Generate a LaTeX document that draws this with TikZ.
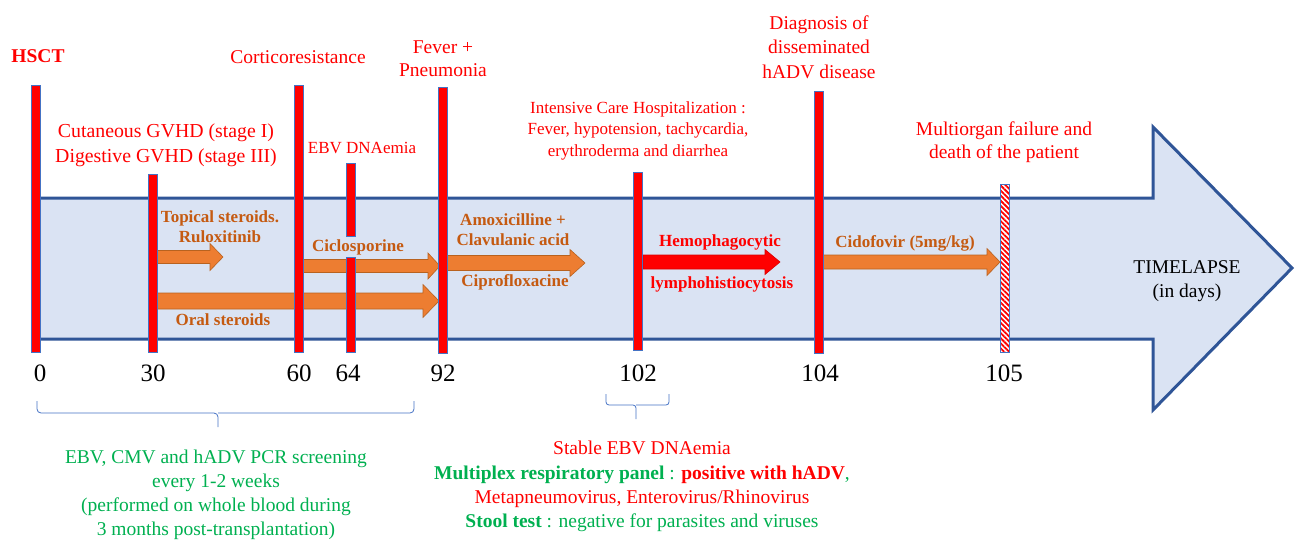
\documentclass[tikz,border=0pt]{standalone}
\usepackage{fontspec}
\setmainfont{LiberationSerif}[Extension=.ttf,UprightFont=*-Regular,BoldFont=*-Bold,ItalicFont=*-Italic,BoldItalicFont=*-BoldItalic]
\usetikzlibrary{patterns.meta}
\definecolor{bandfill}{HTML}{DAE3F3}
\definecolor{bandline}{HTML}{2F5597}
\definecolor{barline}{HTML}{4472C4}
\definecolor{orfill}{HTML}{ED7D31}
\definecolor{orline}{HTML}{B8621F}
\definecolor{ortext}{HTML}{C55A11}
\definecolor{grn}{HTML}{00B050}
\definecolor{rd}{HTML}{FF0000}
\newcommand{\tlarrow}[7]{%
  \draw[#1] ({#2},{#5-#6}) -- ({#3},{#5-#6}) -- ({#3},{#5-#7}) -- ({#4},{#5})
   -- ({#3},{#5+#7}) -- ({#3},{#5+#6}) -- ({#2},{#5+#6}) -- cycle;}
\newcommand{\tlbar}[3]{%
  \draw[barstyle] ({#1-4.5},{#2}) rectangle ({#1+4.5},{#3});}
\begin{document}
\begin{tikzpicture}[x=1pt,y=-1pt,
  barstyle/.style={fill=rd,draw=barline,line width=0.8pt},
  medarrow/.style={fill=orfill,draw=orline,line width=0.6pt},
  redarrow/.style={fill=rd,draw=rd!85!black,line width=0.6pt},
  evt/.style={text=rd,font=\fontsize{19.5}{24}\selectfont,align=center,inner sep=0pt},
  evtsmall/.style={text=rd,font=\fontsize{17}{21.5}\selectfont,align=center,inner sep=0pt},
  med/.style={text=ortext,font=\bfseries\fontsize{17}{20}\selectfont,align=center,inner sep=0pt},
  daynum/.style={text=black,font=\fontsize{25}{28}\selectfont,inner sep=0pt},
  bracestyle/.style={draw=barline,line width=0.8pt,rounded corners=4pt},
  note/.style={font=\fontsize{19.5}{24.3}\selectfont,align=center,inner sep=0pt}
]
\useasboundingbox (0,0) rectangle (1295,539);
% main timeline arrow
\draw[fill=bandfill,draw=bandline,line width=3pt,line join=miter]
  (36,198) -- (1153,198) -- (1153,127) -- (1292,268) -- (1153,410) -- (1153,339) -- (36,339) -- cycle;
% treatment arrows
\tlarrow{medarrow}{157}{210}{223}{257}{6.5}{13.5}
\tlarrow{medarrow}{303}{428}{440}{266}{6.5}{13}
\tlarrow{medarrow}{156}{423}{439}{301}{8}{16.5}
\tlarrow{medarrow}{447}{570}{585}{263}{7.5}{13.5}
\tlarrow{redarrow}{643}{765}{780}{262}{7}{12.5}
\tlarrow{medarrow}{823}{987}{1000}{262}{7}{13.5}
% event bars
\tlbar{36}{85}{352}
\tlbar{153}{174}{352}
\tlbar{299}{85}{352}
\tlbar{351}{163}{236}
\tlbar{351}{257}{352}
\tlbar{443}{87}{353}
\tlbar{638}{172}{350}
\tlbar{819}{91}{353}
\fill[white] (1000.5,184) rectangle (1009.5,352);
\path[pattern={Lines[angle=-45,distance=3.6pt,line width=1.8pt]},pattern color=rd] (1000.5,184) rectangle (1009.5,352);
\draw[barline,line width=0.8pt] (1000.5,184) rectangle (1009.5,352);
% event labels
\node[evt,font=\bfseries\fontsize{19.5}{24}\selectfont] (hsct) at (38,56) {HSCT};
\node[evt,font=\fontsize{19.8}{25}\selectfont] (gvhd) at (166,145.5) {Cutaneous GVHD (stage I)\\Digestive GVHD (stage III)};
\node[evt] (cortico) at (298,57) {Corticoresistance};
\node[evt,font=\fontsize{17}{20}\selectfont] (ebv) at (362,148) {EBV DNAemia};
\node[evt,font=\fontsize{19.5}{23}\selectfont] (fever) at (443,58.5) {Fever +\\Pneumonia};
\node[evtsmall] (icu) at (638,130.5) {Intensive Care Hospitalization :\\Fever, hypotension, tachycardia,\\erythroderma and diarrhea};
\node[evt,font=\fontsize{19.5}{24.5}\selectfont] (diag) at (819,47) {Diagnosis of\\disseminated\\hADV disease};
\node[evt,font=\fontsize{19.5}{23}\selectfont] (death) at (1004,142.5) {Multiorgan failure and\\death of the patient};
\node[evt,text=black] (tl) at (1187,281) {TIMELAPSE\\(in days)};
% day numbers
\node[daynum] (d0) at (40,373) {0};
\node[daynum] (d30) at (153,373) {30};
\node[daynum] (d60) at (299,373) {60};
\node[daynum] (d64) at (348,373) {64};
\node[daynum] (d92) at (443,373) {92};
\node[daynum] (d102) at (638,373) {102};
\node[daynum] (d104) at (820,373) {104};
\node[daynum] (d105) at (1004,373) {105};
% treatment labels
\node[med] (topical) at (220,227) {Topical steroids.\\Ruloxitinib};
\node[med] (ciclo) at (358,247) {Ciclosporine};
\node[med] (oral) at (223,320) {Oral steroids};
\node[med] (amox) at (513,230) {Amoxicilline +\\Clavulanic acid};
\node[med] (cipro) at (515,282) {Ciprofloxacine};
\node[med,text=rd] (hemo1) at (720,242) {Hemophagocytic};
\node[med,text=rd] (hemo2) at (722,284) {lymphohistiocytosis};
\node[med] (cido) at (905,243) {Cidofovir (5mg/kg)};
% braces
\coordinate (b1l) at (37,401);
\coordinate (b1m) at (218,413);
\coordinate (b1t) at (218,427);
\coordinate (b1r) at (414,401);
\draw[bracestyle] (b1l) |- (b1m) -- (b1t);
\draw[bracestyle] (b1m) -| (b1r);
\coordinate (b2l) at (606,394);
\coordinate (b2m) at (636,405);
\coordinate (b2t) at (636,419);
\coordinate (b2r) at (669,394);
\draw[bracestyle,rounded corners=3pt] (b2l) |- (b2m) -- (b2t);
\draw[bracestyle,rounded corners=3pt] (b2m) -| (b2r);
% bottom notes
\node[note,text=grn,font=\fontsize{19.5}{24}\selectfont] (pcr) at (216,494.5) {EBV, CMV and hADV PCR screening\\every 1-2 weeks\\(performed on whole blood during\\3 months post-transplantation)};
\node[note] (tests) at (642,486.5) {{\color{rd}Stable EBV DNAemia}\\
{\bfseries\color{grn}Multiplex respiratory panel} {\color{grn}:} {\bfseries\color{rd}positive with hADV}{\color{grn},}\\
{\color{rd}Metapneumovirus, Enterovirus/Rhinovirus}\\
{\bfseries\color{grn}Stool test} {\color{grn}: negative for parasites and viruses}};
\end{tikzpicture}
\end{document}
